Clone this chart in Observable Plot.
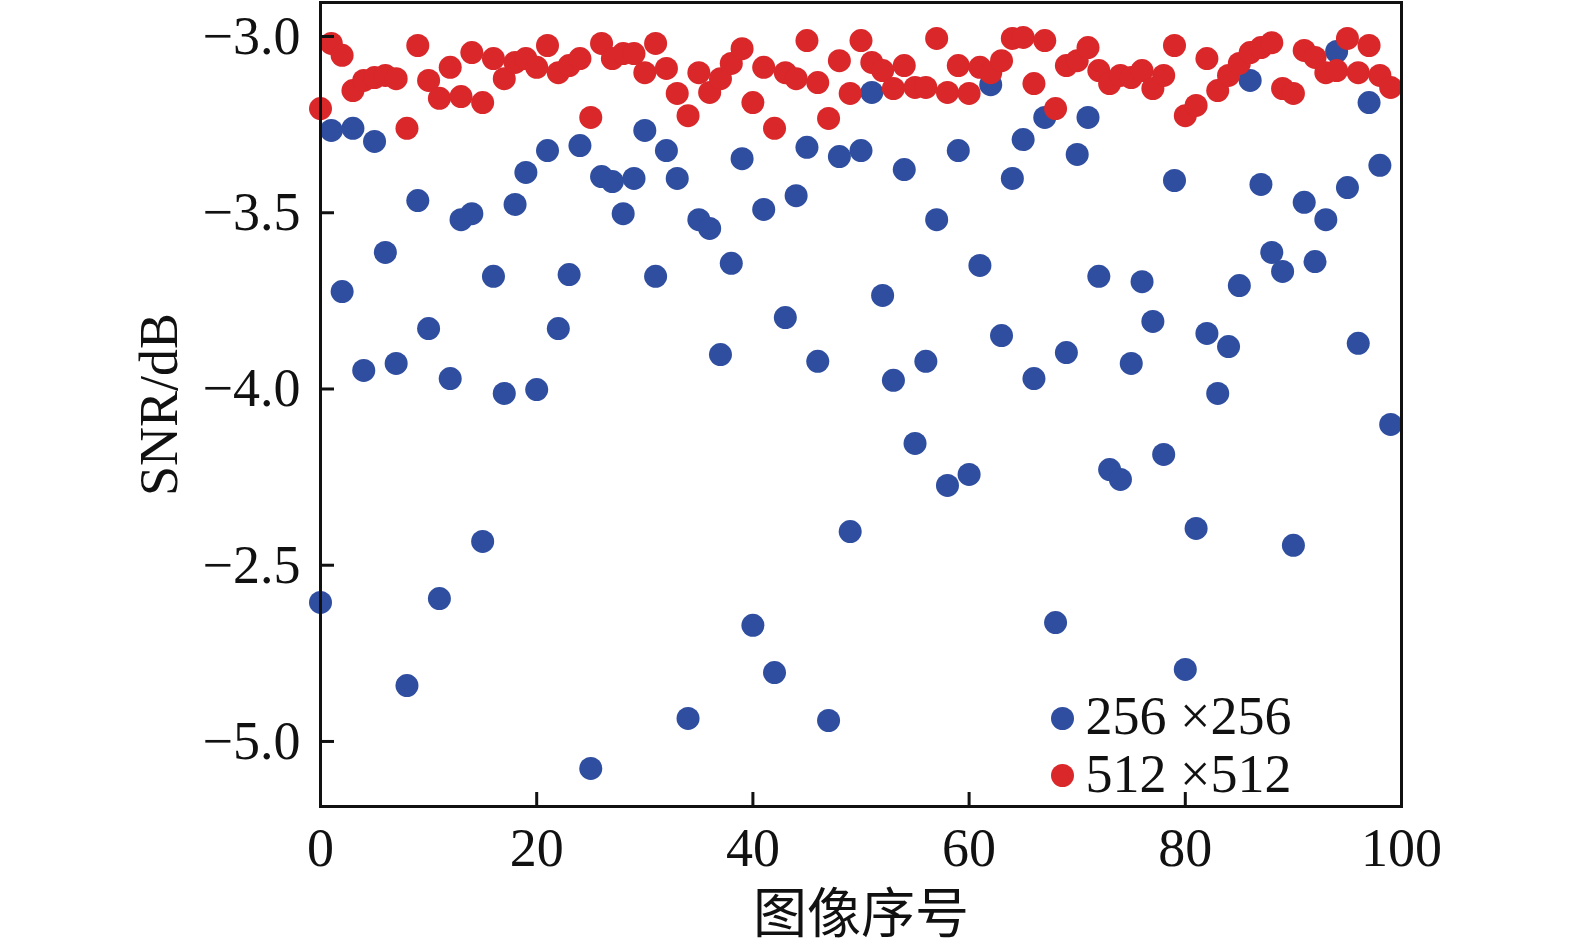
<!DOCTYPE html>
<html>
<head>
<meta charset="utf-8">
<script src="https://cdn.jsdelivr.net/npm/d3@7"></script>
<script src="https://cdn.jsdelivr.net/npm/@observablehq/plot@0.6"></script>
<style>
  html, body { margin: 0; padding: 0; background: #fff; }
  #chart svg { display: block; }
</style>
</head>
<body>
<div id="chart"></div>
<script>
// ---------- data ----------
const imageIndex = Array.from({length: 100}, (_, i) => i);

const snr256 = [
  -4.597, -3.258, -3.715, -3.252, -3.939, -3.289, -3.604, -3.919, -4.833, -3.457,
  -3.820, -4.586, -3.962, -3.511, -3.494, -4.424, -3.672, -4.004, -3.468, -3.377,
  -3.993, -3.315, -3.820, -3.667, -3.301, -5.068, -3.389, -3.403, -3.494, -3.394,
  -3.258, -3.672, -3.315, -3.394, -4.926, -3.511, -3.536, -3.894, -3.635, -3.338,
  -4.662, -3.482, -4.796, -3.789, -3.443, -3.306, -3.913, -4.932, -3.332, -4.396,
  -3.315, -3.150, -3.726, -3.967, -3.369, -4.146, -3.913, -3.511, -4.265, -3.315,
  -4.234, -3.641, -3.128, -3.840, -3.394, -3.284, -3.962, -3.221, -4.654, -3.888,
  -3.326, -3.221, -3.672, -4.220, -4.248, -3.919, -3.687, -3.800, -4.177, -3.400,
  -4.787, -4.387, -3.834, -4.004, -3.871, -3.698, -3.116, -3.411, -3.604, -3.658,
  -4.435, -3.462, -3.630, -3.511, -3.034, -3.420, -3.862, -3.179, -3.357, -4.092
];

const snr512 = [
  -3.196, -3.011, -3.045, -3.145, -3.116, -3.108, -3.102, -3.111, -3.252, -3.017,
  -3.116, -3.167, -3.079, -3.162, -3.037, -3.179, -3.054, -3.111, -3.065, -3.054,
  -3.079, -3.017, -3.094, -3.074, -3.054, -3.221, -3.011, -3.054, -3.040, -3.040,
  -3.094, -3.011, -3.082, -3.153, -3.216, -3.094, -3.150, -3.111, -3.068, -3.026,
  -3.179, -3.079, -3.252, -3.094, -3.111, -3.003, -3.122, -3.224, -3.060, -3.153,
  -3.003, -3.065, -3.088, -3.139, -3.074, -3.136, -3.136, -2.997, -3.150, -3.074,
  -3.153, -3.079, -3.094, -3.060, -2.997, -2.994, -3.125, -3.003, -3.196, -3.074,
  -3.060, -3.023, -3.088, -3.125, -3.102, -3.108, -3.088, -3.139, -3.102, -3.017,
  -3.216, -3.187, -3.054, -3.145, -3.102, -3.068, -3.037, -3.023, -3.009, -3.139,
  -3.153, -3.031, -3.051, -3.094, -3.088, -2.997, -3.094, -3.017, -3.102, -3.136
];

const seriesNames = ["256 ×256", "512 ×512"];
const seriesColors = ["#2f4ea0", "#d9272a"];

const xTicks = [0, 20, 40, 60, 80, 100];
const yTicks = [-3.0, -3.5, -4.0, -4.5, -5.0];
const yTickLabels = ["\u22123.0", "\u22123.5", "\u22124.0", "\u22122.5", "\u22125.0"];

const xLabel = "图像序号";
const yLabel = "SNR/dB";

// ---------- build table ----------
const rows256 = imageIndex.map((i) => ({idx: i, snr: snr256[i]}));
const rows512 = imageIndex.map((i) => ({idx: i, snr: snr512[i]}));

const fontStack = "'Liberation Serif', 'Times New Roman', 'Noto Sans CJK SC', serif";
const R = 11.5;

const chart = Plot.plot({
  width: 1575,
  height: 947,
  marginLeft: 320,
  marginRight: 174,
  marginTop: 2,
  marginBottom: 141,
  style: {fontFamily: fontStack, fontSize: "54px", color: "#111", background: "#fff", overflow: "visible"},
  x: {domain: [0, 100]},
  y: {domain: [-5.176, -2.895]},
  marks: [
    Plot.dot(rows256, {x: "idx", y: "snr", r: R, fill: seriesColors[0]}),
    Plot.dot(rows512, {x: "idx", y: "snr", r: R, fill: seriesColors[1]}),
    Plot.axisX({
      ticks: xTicks, tickSize: -14, tickPadding: 35, strokeWidth: 3,
      fontSize: 54, tickFormat: (d) => String(d),
      label: xLabel, labelAnchor: "center", labelOffset: 126, labelArrow: "none"
    }),
    Plot.axisY({
      ticks: yTicks, tickSize: -14, tickPadding: 34, strokeWidth: 3,
      fontSize: 54, dy: -3,
      tickFormat: (d) => yTickLabels[yTicks.findIndex((t) => Math.abs(t - d) < 1e-9)],
      label: yLabel, labelAnchor: "center", labelOffset: 182, labelArrow: "none"
    }),
    Plot.frame({strokeWidth: 3, stroke: "#111"}),
    // legend
    Plot.dot([seriesNames[0]], {frameAnchor: "bottom-right", dx: -339, dy: -88, r: R, fill: seriesColors[0]}),
    Plot.dot([seriesNames[1]], {frameAnchor: "bottom-right", dx: -339, dy: -31, r: R, fill: seriesColors[1]}),
    Plot.text([seriesNames[0]], {text: (d) => d, frameAnchor: "bottom-right", dx: -316, dy: -73, textAnchor: "start", fontSize: 54, fill: "#111"}),
    Plot.text([seriesNames[1]], {text: (d) => d, frameAnchor: "bottom-right", dx: -316, dy: -15, textAnchor: "start", fontSize: 54, fill: "#111"})
  ]
});

document.getElementById("chart").append(chart);
</script>
</body>
</html>
